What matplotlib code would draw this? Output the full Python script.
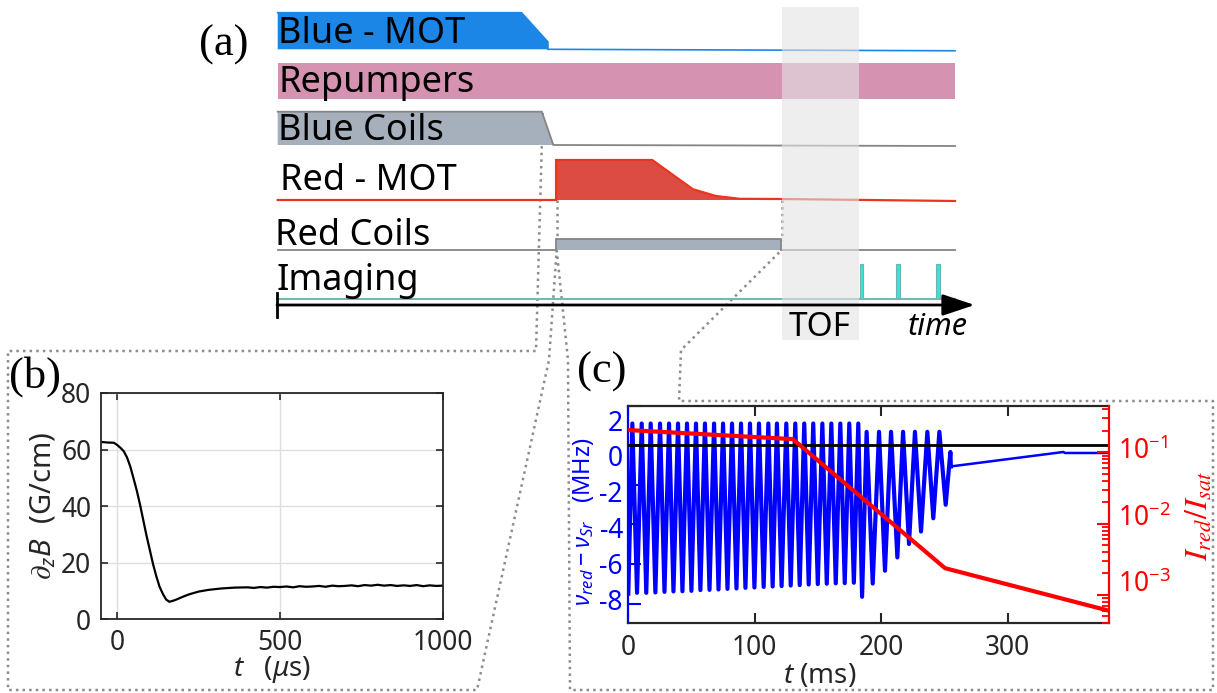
import numpy as np
import matplotlib
matplotlib.use('Agg')
import matplotlib.pyplot as plt

plt.rcParams['font.family'] = ['Noto Sans', 'DejaVu Sans']
plt.rcParams['mathtext.fontset'] = 'custom'
plt.rcParams['mathtext.rm'] = 'Noto Sans'
plt.rcParams['mathtext.it'] = 'Noto Sans:italic'
plt.rcParams['mathtext.bf'] = 'Noto Sans:bold'

W, H = 1217, 693

# ---------------- (a) timing diagram (time in arbitrary units 0..100) ----------
blue_mot_t = [0, 36.0, 39.9, 39.9, 100]
blue_mot_v = [1, 1, 0.2, 0, -0.04]
repump_t = [0, 100]
repump_v = [1, 1]
blue_coils_t = [0, 39.0, 40.7, 100]
blue_coils_v = [1, 1, 0, -0.03]
red_mot_t = [0, 41.1, 41.1, 55.3, 61.3, 64.7, 68.2, 74.3, 100]
red_mot_v = [0, 0, 1, 1, 0.27, 0.10, 0.03, 0.025, -0.025]
red_coils_t = [0, 41.1, 41.1, 74.3, 74.3, 100]
red_coils_v = [0, 0, 1, 1, 0, 0]
imaging_t = [0, 100]
imaging_v = [0, 0]
pulse_t = [86.2, 91.6, 97.5]
pulse_v = [1, 1, 1]
tof_window = [74.5, 85.8]
row_labels = ['Blue - MOT', 'Repumpers', 'Blue Coils', 'Red - MOT', 'Red Coils', 'Imaging']

# ---------------- (b) field gradient ------------------------------------------
b_t = [-50, -30, -10, 0, 10, 20, 30, 40, 50, 60, 70, 80, 90, 100, 110, 120, 130,
       140, 150, 160, 170, 180, 200, 220, 250, 280, 320, 360, 400, 420, 440, 460,
       480, 500, 520, 540, 560, 580, 600, 620, 640, 660, 680, 700, 720, 740, 760,
       780, 800, 820, 840, 860, 880, 900, 920, 940, 960, 980, 1000]
b_grad = [62.7, 62.5, 62.4, 61.6, 60.6, 59.4, 57.2, 54.0, 49.8, 45.5, 40.5, 35.0,
          29.5, 24.5, 19.5, 15.2, 11.5, 9.0, 7.0, 6.2, 6.5, 6.9, 7.9, 8.8, 9.8,
          10.4, 10.9, 11.2, 11.3, 11.1, 11.4, 11.2, 11.5, 11.4, 11.6, 11.3, 11.7,
          11.5, 11.6, 11.8, 11.5, 11.9, 11.7, 11.8, 12.0, 11.7, 12.1, 11.9, 12.2,
          11.9, 12.1, 11.8, 12.0, 11.8, 12.1, 11.7, 12.0, 11.8, 11.9]

# ---------------- (c) detuning sweeps and red intensity ---------------------------
zig_t = [0, 3.2, 6.9, 10.6, 14.2, 17.7, 21.4, 25.1, 28.6, 32.2, 35.7, 39.3, 42.8,
         46.4, 49.9, 53.5, 57.0, 60.6, 64.2, 67.8, 71.3, 74.9, 78.4, 82.0, 85.5,
         89.1, 92.6, 96.2, 99.7, 103.3, 107.0, 110.7, 114.1, 117.5, 121.2, 124.9,
         128.4, 132.0, 135.5, 139.1, 142.6, 146.2, 149.8, 153.4, 156.9, 160.5,
         164.0, 167.6, 171.1, 174.7, 178.3, 181.8, 184.8, 188.4, 193.2, 198.2,
         202.9, 207.7, 212.7, 217.2, 221.9, 226.6, 231.4, 236.4, 241.1, 245.9,
         250.9, 254.6, 255.0]
zig_v = [-7.5, 1.1, -7.46, 1.1, -7.46, 1.1, -7.44, 1.1, -7.41, 1.1, -7.39, 1.1,
         -7.38, 1.1, -7.36, 1.1, -7.32, 1.1, -7.31, 1.1, -7.29, 1.1, -7.26, 1.1,
         -7.24, 1.1, -7.21, 1.1, -7.19, 1.1, -7.16, 1.1, -7.14, 1.1, -7.12, 1.1,
         -7.09, 1.1, -7.07, 1.1, -7.04, 1.1, -7.02, 1.1, -7.0, 1.1, -6.98, 1.1,
         -6.97, 1.1, -6.95, 1.1, -7.66, 0.68, -6.99, 0.68, -6.34, 0.68, -5.67,
         0.68, -4.99, 0.68, -4.36, 0.68, -3.69, 0.68, -3.01, -0.34, -1.07]
tail_t = [255.0, 343.9, 345.2, 382]
tail_v = [-1.07, -0.34, -0.39, -0.39]
red_t = [0, 130, 250.4, 380]
red_i = [0.205, 0.153, 2.37e-3, 6.0e-4]

# ---------------------------------------------------------------------------------
fig = plt.figure(figsize=(W / 100, H / 100), dpi=100)

# full-figure pixel overlay for frames / connectors
axf = fig.add_axes([0, 0, 1, 1])
axf.set_xlim(0, W)
axf.set_ylim(H, 0)
axf.axis('off')

# timing diagram axes: time units on x, pixel rows on y
T0, T100 = 277.7, 955.0
ts = (T100 - T0) / 100.0
axa = fig.add_axes([0, 0, 1, 1])
axa.set_xlim(-T0 / ts, (W - T0) / ts)
axa.set_ylim(H, 0)
axa.axis('off')

def row(t, v, base, h, face=None, edge=None, lw=1.2, z=2):
    t = np.asarray(t, float)
    y = base - np.asarray(v, float) * h
    if face is not None:
        axa.fill_between(t, y, base, where=np.asarray(v) >= 0, facecolor=face,
                         edgecolor='none', zorder=z, interpolate=True)
    if edge is not None:
        axa.plot(t, y, color=edge, lw=lw, zorder=z + 0.1, solid_joinstyle='miter')

row(blue_mot_t, blue_mot_v, 49.3, 36.6, face='#1c86e6', edge='#1c86e6', lw=1.2)
row(repump_t, repump_v, 99.3, 36.0, face='#d592b1')
row(blue_coils_t, blue_coils_v, 145.0, 33.3, face='#a6b0bc', edge='#858585', lw=1.3)
row(red_mot_t, red_mot_v, 200.0, 40.0, face='#dc4c43', edge='#ea3520', lw=1.6)
row(red_coils_t, red_coils_v, 250.0, 10.7, face='#a6b0bc', edge='#858585', lw=1.3)
row(imaging_t, imaging_v, 299.3, 35.0, edge='#74b8b0', lw=1.5)
axa.bar(pulse_t, -np.asarray(pulse_v) * 35.0, width=0.55, bottom=299.3,
        color='#35e6d6', edgecolor='#6bb5ad', lw=0.8, zorder=2)

# TOF window
axa.fill_between(tof_window, 7, 340, color='#e4e4e4', alpha=0.6, lw=0, zorder=5)

# time axis
axa.annotate('', xy=(102.9, 305), xytext=(-0.1, 305),
             arrowprops=dict(arrowstyle='-|>,head_length=0.9,head_width=0.3',
                             lw=2.0, color='k', mutation_scale=22,
                             shrinkA=0, shrinkB=0), zorder=6)
axa.plot([-0.1, -0.1], [293, 317], color='k', lw=2.0, zorder=6)

# texts in pixel coordinates, drawn above every axes
def ftext(x, y, s, **kw):
    return fig.text(x, y, s, transform=axf.transData, **kw)

label_pos = [(278, 42.7), (278, 91.7), (278, 140.0), (280, 190.0), (275, 245.0), (277, 290.0)]
for lab, (x, y) in zip(row_labels, label_pos):
    ftext(x, y, lab, fontsize=26, ha='left', va='baseline', color='k')
ftext(820, 327, 'TOF', fontsize=24, ha='center', va='center')
ftext(938, 327, 'time', fontsize=22, ha='center', va='center', style='italic')

serif = ['Liberation Serif', 'DejaVu Serif']
ftext(224, 45, '(a)', fontsize=32, family=serif, ha='center', va='center')
ftext(35, 377, '(b)', fontsize=32, family=serif, ha='center', va='center')
ftext(602, 372, '(c)', fontsize=32, family=serif, ha='center', va='center')

# dotted connectors and panel frames
dot = dict(color='#8c8c8c', lw=1.8, ls=':', zorder=1)
axf.plot([542.7, 536, 8, 8, 477, 549, 556.7], [113, 351, 351, 690, 690, 360, 250], **dot)
axf.plot([556.7, 556.7], [200, 240], **dot)
axf.plot([781.7, 781.7], [200, 240], **dot)
axf.plot([556.7, 568, 570, 1213, 1213, 679, 681, 781.7],
         [250, 360, 690, 690, 401, 401, 350, 250], **dot)

# ---------------- (b) -----------------------------------------------------------
ink = '#262626'
axb = fig.add_axes([101 / W, 1 - 619.3 / H, 341.7 / W, 226.3 / H])
axb.plot(b_t, b_grad, color='k', lw=1.6)
axb.set_xlim(-50, 1000)
axb.set_ylim(0, 80)
axb.set_xticks([0, 500, 1000])
axb.set_yticks([0, 20, 40, 60, 80])
axb.grid(True, color='#dedede', lw=1.0)
axb.tick_params(direction='in', top=True, right=True, length=5, width=1.2,
                labelsize=19, colors=ink, pad=7)
for s in axb.spines.values():
    s.set_color(ink)
    s.set_linewidth(1.3)
axb.set_ylabel(r'$\partial_z B$  (G/cm)', fontsize=21, color=ink, labelpad=2)
axb.set_xlabel(r'$t$   ($\mu$s)', fontsize=20, color=ink, labelpad=-2)

# ---------------- (c) -----------------------------------------------------------
axc = fig.add_axes([628.3 / W, 1 - 623.3 / H, 480.7 / W, 217.6 / H])
axc.plot(zig_t, zig_v, color='#0000ff', lw=3.0, zorder=2)
axc.plot(tail_t, tail_v, color='#0000ff', lw=1.8, zorder=2)
axc.axhline(0, color='k', lw=2.0, zorder=3)
axc.set_xlim(0, 380)
axc.set_ylim(-9, 2)
axc.set_xticks([0, 100, 200, 300])
axc.set_yticks([2, 0, -2, -4, -6, -8])
axc.tick_params(axis='x', direction='in', top=True, length=7, width=1.5,
                labelsize=19, colors=ink, pad=8)
axc.tick_params(axis='y', direction='in', length=9, width=1.5, colors='#0000ff',
                labelleft=False)
axc.spines['left'].set_color('#0000ff')
axc.spines['right'].set_visible(False)
for k in ('top', 'bottom'):
    axc.spines[k].set_color(ink)
for s in axc.spines.values():
    s.set_linewidth(1.6)

axr = axc.twinx()
axr.plot(red_t, red_i, color='#ff0000', lw=3.0, zorder=4)
axr.set_yscale('log')
axr.set_ylim(4.0e-4, 0.45)
axr.tick_params(axis='y', which='major', direction='in', length=9, width=1.5,
                colors='#ff0000', labelright=False)
axr.tick_params(axis='y', which='minor', direction='in', length=5, width=1.3,
                colors='#ff0000')
axr.spines['right'].set_color('#ff0000')
axr.spines['right'].set_linewidth(1.6)
axr.spines['left'].set_visible(False)
axr.spines['top'].set_visible(False)
axr.spines['bottom'].set_visible(False)

left_labels = ['2', '0', '-2', '-4', '-6', '-8']
left_label_y = [424, 459, 495, 531, 567, 603]
for lab, y in zip(left_labels, left_label_y):
    ftext(623, y, lab, fontsize=19, color='#0000ff', ha='right', va='center')
right_labels = [r'$10^{-1}$', r'$10^{-2}$', r'$10^{-3}$']
right_label_y = [451.7, 518.3, 585]
for lab, y in zip(right_labels, right_label_y):
    ftext(1118, y, lab, fontsize=19, color='#ff0000', ha='left', va='center')

ftext(584, 522, r'$\nu_{red}-\nu_{Sr}$   (MHz)', fontsize=17,
      color='#0000ff', rotation=90, ha='center', va='center')
ftext(1199, 516, r'$I_{red}/I_{sat}$', fontsize=23, color='#ff0000',
      rotation=90, ha='center', va='center', math_fontfamily='stix')
ftext(820, 676, r'$t$ (ms)', fontsize=20, color=ink, ha='center', va='center')

fig.savefig('out.png', dpi=100)
